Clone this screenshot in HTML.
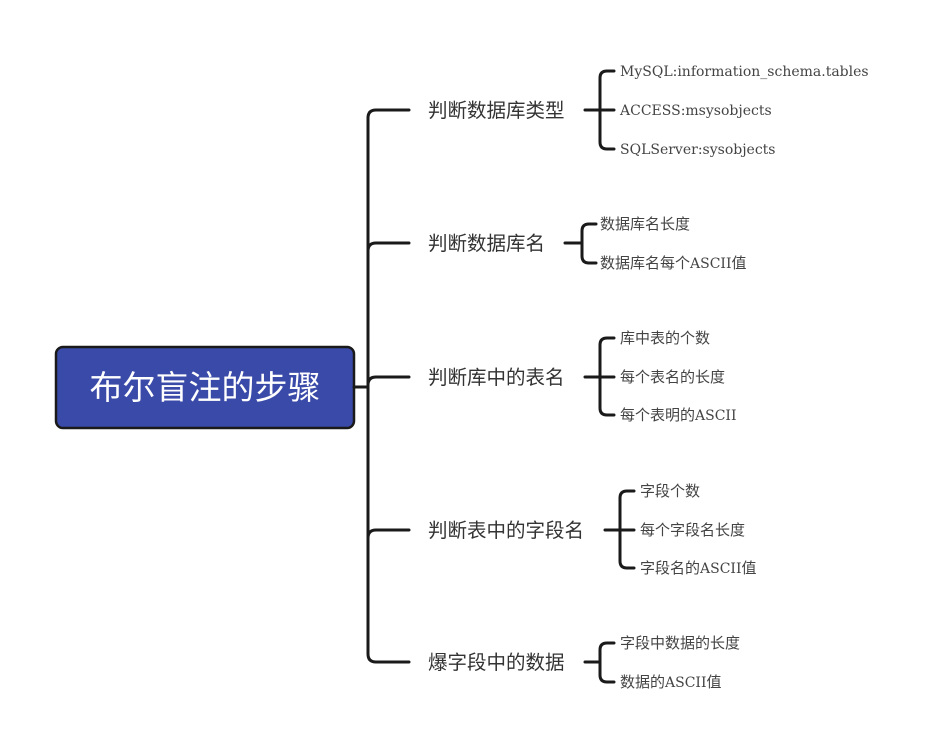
<!DOCTYPE html>
<html><head><meta charset="utf-8"><style>
html,body{margin:0;padding:0;background:#fff;}
svg{display:block;}
.l1{font-family:"Liberation Sans","Noto Sans CJK SC",sans-serif;font-size:19.5px;fill:#333;}
.l2{font-family:"DejaVu Serif","Noto Sans CJK SC",serif;font-size:14px;fill:#444;}
.l2 tspan{font-size:15px;}
.c{fill:none;stroke:#1a1a1a;stroke-width:3;stroke-linecap:round;}
</style></head><body>
<svg width="937" height="753" viewBox="0 0 937 753" xmlns="http://www.w3.org/2000/svg">
<rect x="56" y="347" width="298" height="81" rx="7" fill="#3a4aa8" stroke="#1a1a1a" stroke-width="2.5"/>
<text x="205" y="399" text-anchor="middle" font-family="'Liberation Sans','Noto Sans CJK SC',sans-serif" font-size="33" fill="#fff">布尔盲注的步骤</text>
<path class="c" d="M354 387 H368"/>
<path class="c" d="M409 110 H376 Q368 110 368 118 V654 Q368 662 376 662 H409"/>
<path class="c" d="M368 251 Q368 243 376 243 H409"/>
<path class="c" d="M368 385 Q368 377 376 377 H409"/>
<path class="c" d="M368 538 Q368 530 376 530 H409"/>
<text class="l1" x="428" y="117">判断数据库类型</text>
<text class="l1" x="428" y="250">判断数据库名</text>
<text class="l1" x="428" y="384">判断库中的表名</text>
<text class="l1" x="428" y="537">判断表中的字段名</text>
<text class="l1" x="428" y="669">爆字段中的数据</text>
<path class="c" d="M585 110 H614 M614 71 H607 Q600 71 600 78 V142 Q600 149 607 149 H614"/>
<text class="l2" x="620" y="76">MySQL:information_schema.tables</text>
<text class="l2" x="620" y="115">ACCESS:msysobjects</text>
<text class="l2" x="620" y="154">SQLServer:sysobjects</text>
<path class="c" d="M565 243 H581 M596 224 H589 Q582 224 582 231 V256 Q582 263 589 263 H596"/>
<text class="l2" x="600" y="229"><tspan>数据库名长度</tspan></text>
<text class="l2" x="600" y="268"><tspan>数据库名每个</tspan>ASCII<tspan>值</tspan></text>
<path class="c" d="M585 377 H614 M614 338 H607 Q600 338 600 345 V408 Q600 415 607 415 H614"/>
<text class="l2" x="620" y="343"><tspan>库中表的个数</tspan></text>
<text class="l2" x="620" y="382"><tspan>每个表名的长度</tspan></text>
<text class="l2" x="620" y="420"><tspan>每个表明的</tspan>ASCII</text>
<path class="c" d="M605 530 H634 M634 491 H627 Q620 491 620 498 V561 Q620 568 627 568 H634"/>
<text class="l2" x="640" y="496"><tspan>字段个数</tspan></text>
<text class="l2" x="640" y="535"><tspan>每个字段名长度</tspan></text>
<text class="l2" x="640" y="573"><tspan>字段名的</tspan>ASCII<tspan>值</tspan></text>
<path class="c" d="M585 662 H600 M614 643 H607 Q600 643 600 650 V675 Q600 682 607 682 H614"/>
<text class="l2" x="620" y="648"><tspan>字段中数据的长度</tspan></text>
<text class="l2" x="620" y="687"><tspan>数据的</tspan>ASCII<tspan>值</tspan></text>
</svg>
</body></html>
